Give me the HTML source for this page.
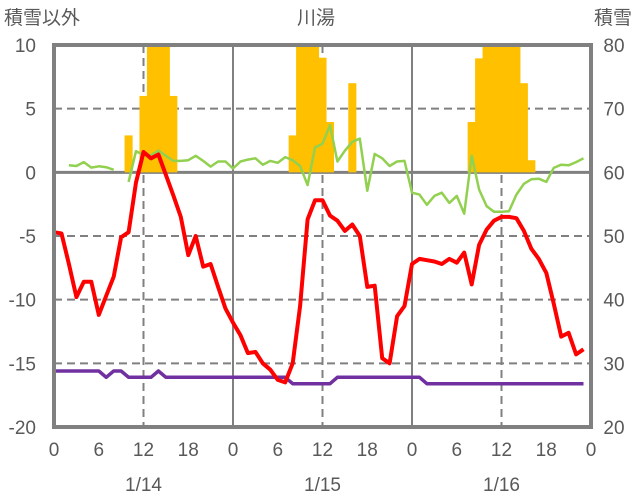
<!DOCTYPE html>
<html><head><meta charset="utf-8"><style>
body{margin:0;background:#fff}
svg{display:block;font-family:"Liberation Sans","Noto Sans CJK JP",sans-serif}
</style></head><body>
<svg id="chart" width="636" height="501" xmlns="http://www.w3.org/2000/svg">
<defs><clipPath id="plotclip"><rect x="54" y="45" width="537" height="382"/></clipPath></defs>
<g id="grid"></g>
<g id="bars" clip-path="url(#plotclip)"></g>
<g id="lines"></g>
<rect x="54" y="45" width="537" height="382" fill="none" stroke="#808080" stroke-width="4"/>
<g id="labels" font-size="19" fill="#595959"></g>
<text x="4" y="24" font-size="19" fill="#595959">積雪以外</text>
<text x="316" y="24" font-size="19" fill="#595959" text-anchor="middle">川湯</text>
<text x="632" y="24" font-size="19" fill="#595959" text-anchor="end">積雪</text>
</svg>
<script>
const leftTicks=[10,5,0,-5,-10,-15,-20];
const rightTicks=[80,70,60,50,40,30,20];
const hourTicks=[0,6,12,18,0,6,12,18,0,6,12,18,0];
const dates=["1/14","1/15","1/16"];
const temp=[-4.7,-4.8,-7.2,-9.8,-8.6,-8.6,-11.2,-9.7,-8.2,-5.1,-4.7,-0.8,1.6,1.1,1.4,-0.2,-1.8,-3.5,-6.5,-5.0,-7.4,-7.2,-9.0,-10.7,-11.8,-12.8,-14.2,-14.1,-15.0,-15.5,-16.3,-16.5,-15.0,-10.5,-3.7,-2.2,-2.2,-3.4,-3.8,-4.6,-4.1,-5.0,-9.0,-8.9,-14.6,-15.0,-11.3,-10.5,-7.2,-6.8,-6.9,-7.0,-7.2,-6.8,-7.1,-6.3,-8.8,-5.7,-4.5,-3.8,-3.5,-3.5,-3.6,-4.6,-6.0,-6.8,-7.9,-10.3,-12.9,-12.6,-14.3,-13.9];
const wind=[null,null,0.55,0.5,0.8,0.37,0.47,0.4,0.2,null,-0.75,1.67,1.35,1.35,1.7,1.3,0.9,0.9,0.95,1.3,0.9,0.45,0.85,0.85,0.3,0.85,1.0,1.1,0.6,0.9,0.75,1.2,0.95,0.5,-1.0,1.95,2.25,3.7,0.85,1.7,2.4,2.65,-1.45,1.45,1.1,0.5,0.85,0.9,-1.6,-1.75,-2.55,-1.85,-1.6,-2.4,-1.85,-3.25,1.3,-1.35,-2.65,-3.1,-3.1,-3.05,-1.75,-0.9,-0.55,-0.5,-0.75,0.35,0.6,0.55,0.8,1.1];
const snow=[28.8,28.8,28.8,28.8,28.8,28.8,28.8,27.8,28.8,28.8,27.8,27.8,27.8,27.8,28.8,27.8,27.8,27.8,27.8,27.8,27.8,27.8,27.8,27.8,27.8,27.8,27.8,27.8,27.8,27.8,27.8,27.8,26.8,26.8,26.8,26.8,26.8,26.8,27.8,27.8,27.8,27.8,27.8,27.8,27.8,27.8,27.8,27.8,27.8,27.8,26.8,26.8,26.8,26.8,26.8,26.8,26.8,26.8,26.8,26.8,26.8,26.8,26.8,26.8,26.8,26.8,26.8,26.8,26.8,26.8,26.8,26.8];
const precipHours=[10,12,13,14,15,16,32,33,34,35,36,37,40,56,57,58,59,60,61,62,63,64];
const precipVals=[2.9,6,12,12,12,6,2.9,12,12,12,9.0,3.95,7.0,3.95,8.95,12,12,12,12,12,7.0,0.95];

const X0=54,X1=591,Y0=45,Y1=427;
const xs=h=>X0+h*(X1-X0)/72;
const yL=v=>Y0+(10-v)*(Y1-Y0)/30;
const yR=v=>Y0+(80-v)*(Y1-Y0)/60;
const NS="http://www.w3.org/2000/svg";
function mk(tag,attrs,parent){const e=document.createElementNS(NS,tag);for(const k in attrs)e.setAttribute(k,attrs[k]);parent.appendChild(e);return e;}
const grid=document.getElementById('grid'),bars=document.getElementById('bars'),lines=document.getElementById('lines'),labels=document.getElementById('labels');

leftTicks.forEach((v,i)=>{
  if(v!==10&&v!==-20){
    const l=mk('line',{x1:X0,x2:X1,y1:yL(v),y2:yL(v),stroke:'#808080','stroke-width':v===0?3:2,'stroke-dasharray':v===0?'none':'8,5'},grid);
    
    
  }
  const t=mk('text',{x:36,y:yL(v)+7,'text-anchor':'end'},labels);t.textContent=v;
  
  
});
rightTicks.forEach(v=>{
  const t=mk('text',{x:614,y:yR(v)+7,'text-anchor':'middle'},labels);t.textContent=v;
  
  
});
hourTicks.forEach((hv,i)=>{
  const h=i*6;
  if(h>0&&h<72&&h%12===0){
    const day=h%24===0;
    const l=mk('line',{x1:xs(h),x2:xs(h),y1:Y0,y2:Y1,stroke:'#808080','stroke-width':2,'stroke-dasharray':day?'none':'8,5'},grid);
    
    
  }
  const t=mk('text',{x:xs(h),y:456,'text-anchor':'middle'},labels);t.textContent=hv;
  
  
});
dates.forEach((d,i)=>{
  const t=mk('text',{x:xs(i*24+12),y:491,'text-anchor':'middle'},labels);t.textContent=d;
  
  
});
precipHours.forEach((h,i)=>{
  const r=mk('rect',{x:xs(h-0.5)-0.3,width:xs(1)-xs(0)+0.6,y:yL(precipVals[i]),height:yL(0)-yL(precipVals[i]),fill:'#FFC000'},bars);
  
  
});
function path(arr,yf){let d='',pen=false;arr.forEach((v,h)=>{if(v===null){pen=false;return;}d+=(pen?'L':'M')+xs(h).toFixed(1)+','+yf(v).toFixed(1);pen=true;});return d;}
const g=mk('path',{d:path(wind,yL),fill:'none',stroke:'#92D050','stroke-width':2.5,'stroke-linejoin':'round'},lines);


const p=mk('path',{d:path(snow,yR),fill:'none',stroke:'#7030A0','stroke-width':3.5,'stroke-linejoin':'round'},lines);


const r=mk('path',{d:path(temp,yL),fill:'none',stroke:'#FF0000','stroke-width':4,'stroke-linejoin':'round'},lines);


</script>
</body></html>
